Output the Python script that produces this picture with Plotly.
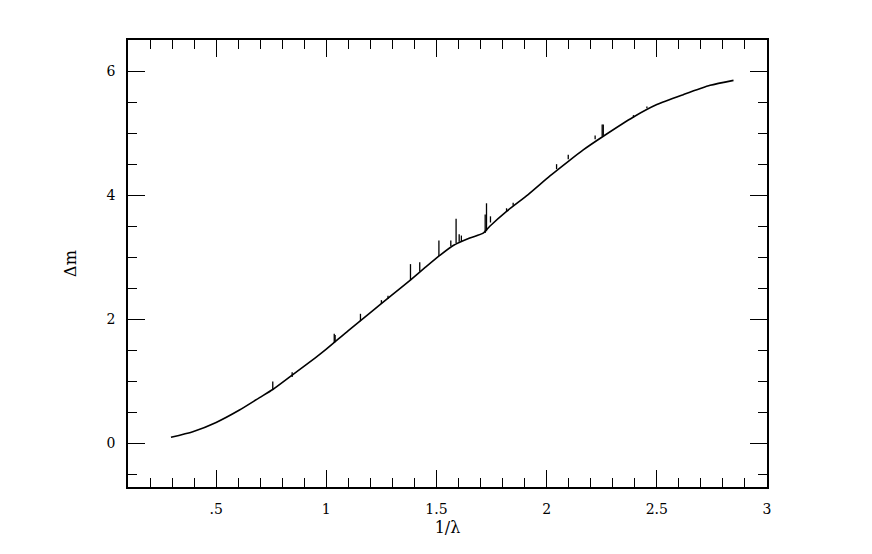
import plotly.graph_objects as go

# smooth curve
inv_lambda = [0.295, 0.394, 0.5, 0.606, 0.697, 0.757, 0.848, 0.95, 1.0, 1.1,
              1.2, 1.3, 1.38, 1.45, 1.515, 1.576, 1.651, 1.712, 1.742, 1.818,
              1.916, 2.015, 2.1, 2.166, 2.257, 2.394, 2.5, 2.62, 2.742, 2.848]
delta_m = [0.10, 0.19, 0.34, 0.54, 0.74, 0.87, 1.11, 1.38, 1.52, 1.82,
           2.11, 2.40, 2.63, 2.84, 3.03, 3.19, 3.31, 3.39, 3.50, 3.74,
           4.01, 4.31, 4.55, 4.73, 4.95, 5.26, 5.46, 5.62, 5.77, 5.85]

# narrow features sticking up from the curve
spike_x = [0.757, 0.845, 1.036, 1.040, 1.155, 1.25, 1.28, 1.382, 1.424, 1.511,
           1.565, 1.589, 1.603, 1.613, 1.721, 1.727, 1.745, 1.818, 1.848,
           2.045, 2.098, 2.22, 2.252, 2.257, 2.394, 2.455]
spike_lo = [0.87, 1.07, 1.62, 1.63, 1.97, 2.25, 2.33, 2.63, 2.77, 3.02,
            3.18, 3.23, 3.25, 3.26, 3.39, 3.42, 3.56, 3.74, 3.83,
            4.42, 4.58, 4.90, 4.95, 4.96, 5.25, 5.40]
spike_hi = [1.00, 1.15, 1.77, 1.75, 2.09, 2.31, 2.38, 2.89, 2.92, 3.27,
            3.27, 3.62, 3.37, 3.35, 3.69, 3.87, 3.66, 3.79, 3.88,
            4.50, 4.65, 4.96, 5.14, 5.14, 5.29, 5.43]

x_ticks = [0.5, 1, 1.5, 2, 2.5, 3]
x_labels = ['.5', '1', '1.5', '2', '2.5', '3']
y_ticks = [0, 2, 4, 6]

FONT = 'DejaVu Serif'

fig = go.Figure()
fig.add_trace(go.Scatter(
    x=inv_lambda, y=delta_m, mode='lines',
    line=dict(color='black', width=1.6, shape='spline', smoothing=0.6),
    showlegend=False
))

sx, sy = [], []
for x, lo, hi in zip(spike_x, spike_lo, spike_hi):
    sx += [x, x, None]
    sy += [lo, hi, None]
fig.add_trace(go.Scatter(
    x=sx, y=sy, mode='lines',
    line=dict(color='black', width=1.3),
    showlegend=False
))

axis_common = dict(
    showgrid=False, zeroline=False,
    showline=True, linecolor='black', linewidth=1.6, mirror='ticks',
    ticks='inside', ticklen=17, tickwidth=1.3, tickcolor='black',
    tickfont=dict(family=FONT, size=14, color='black'),
)

fig.update_xaxes(
    range=[0.1, 3.0], tickvals=x_ticks, ticktext=x_labels,
    minor=dict(dtick=0.1, tick0=0, ticks='inside', ticklen=9, tickwidth=1.1, tickcolor='black'),
    ticklabelstandoff=8,
    title=dict(text='1/λ', font=dict(family=FONT, size=16, color='black'), standoff=6),
    **axis_common
)
fig.update_yaxes(
    range=[-0.7, 6.5], tickvals=y_ticks,
    minor=dict(dtick=0.5, tick0=0, ticks='inside', ticklen=9, tickwidth=1.1, tickcolor='black'),
    ticklabelstandoff=8,
    title=dict(text='Δm', font=dict(family=FONT, size=16, color='black'), standoff=26),
    **axis_common
)

# the page adds ~7px offset, so margins are shifted to land the frame where the reference has it
fig.update_layout(
    width=872, height=554,
    margin=dict(l=120, r=113, t=32, b=75),
    paper_bgcolor='white', plot_bgcolor='white',
)

fig.write_html("out.html")
